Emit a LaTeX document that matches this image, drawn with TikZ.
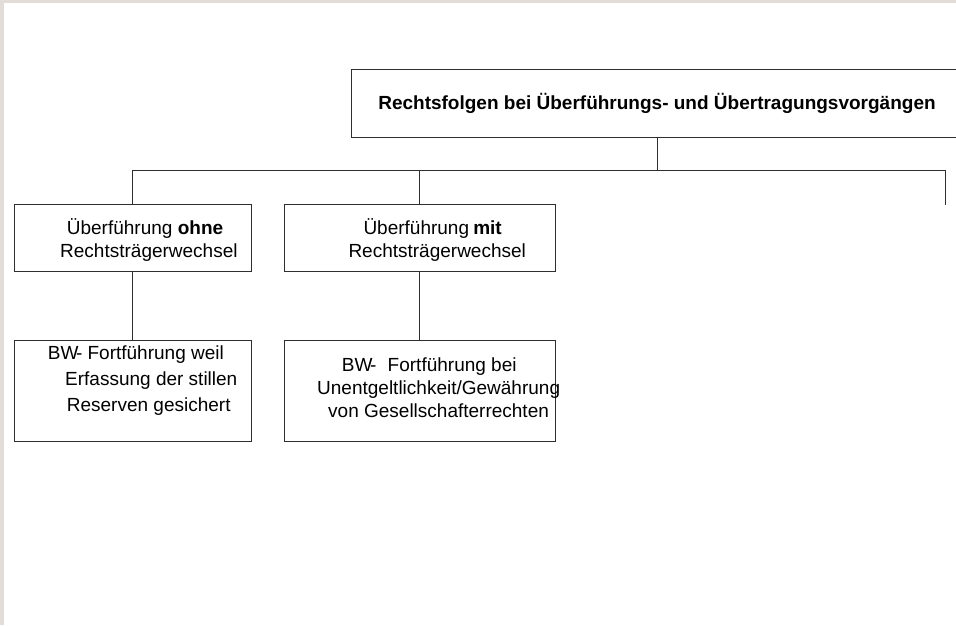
\documentclass[tikz,border=0pt]{standalone}
\usepackage{fontspec}
\setmainfont{Liberation Sans}
\definecolor{frame}{HTML}{E2DDD8}
\definecolor{ink}{HTML}{2E2E2E}
\begin{document}
\begin{tikzpicture}[x=1pt,y=-1pt,
  box/.style={draw=ink,line width=0.9pt,rectangle,inner sep=0pt},
  txt/.style={inner sep=0pt,align=left,anchor=base west,
    font=\fontsize{19}{23}\selectfont,text=black},
  link/.style={draw=ink,line width=0.9pt}]
\useasboundingbox (0,0) rectangle (956,625);
\clip (0,0) rectangle (956,625);
% page edge
\fill[frame] (0,0) rectangle (956,3);
\fill[frame] (0,0) rectangle (4,625);

% boxes
\node[box,minimum width=610,minimum height=68] (title) at (656,103) {};
\node[box,minimum width=237,minimum height=67.5] (b1) at (132.5,238) {};
\node[box,minimum width=271,minimum height=67.5] (b2) at (419.5,238) {};
\node[box,minimum width=237,minimum height=101] (c1) at (132.5,390.5) {};
\node[box,minimum width=271,minimum height=101] (c2) at (419.5,390.5) {};

% texts (anchored at the baseline of their last line)
\node[inner sep=0pt,anchor=base,font=\fontsize{19}{23}\selectfont\bfseries]
  (tt) at (657,109) {Rechtsfolgen bei Überführungs- und Übertragungsvorgängen};
\node[txt] (t1) at (60,257)
  {\hspace*{6.7pt}Überführung \textbf{ohne}\\Rechtsträgerwechsel};
\node[txt] (t2) at (348.3,257)
  {\hspace*{15pt}Überführung\hspace{0.22em}\textbf{mit}\\Rechtsträgerwechsel};
\node[txt,font=\fontsize{19}{26}\selectfont] (t3) at (47.7,411)
  {BW\kern-2.5pt- Fortführung weil\\\hspace*{17.3pt}Erfassung der stillen\\\hspace*{19pt}Reserven gesichert};
\node[txt] (t4) at (317,417)
  {\hspace*{24.7pt}BW\kern-2.5pt-\hspace{0.6em}Fortführung bei\\Unentgeltlichkeit/Gewährung\\\hspace*{11pt}von Gesellschafterrechten};

% connectors
\coordinate (hub) at (657,170);
\coordinate (stub) at (945,204.5);
\draw[link] (title.south -| hub) -- (hub);
\draw[link] (b1.north) |- (stub |- hub) -- (stub);
\draw[link] (b2.north) -- (b2.north |- hub);
\draw[link] (b1.south) -- (c1.north);
\draw[link] (b2.south) -- (c2.north);
\end{tikzpicture}
\end{document}
